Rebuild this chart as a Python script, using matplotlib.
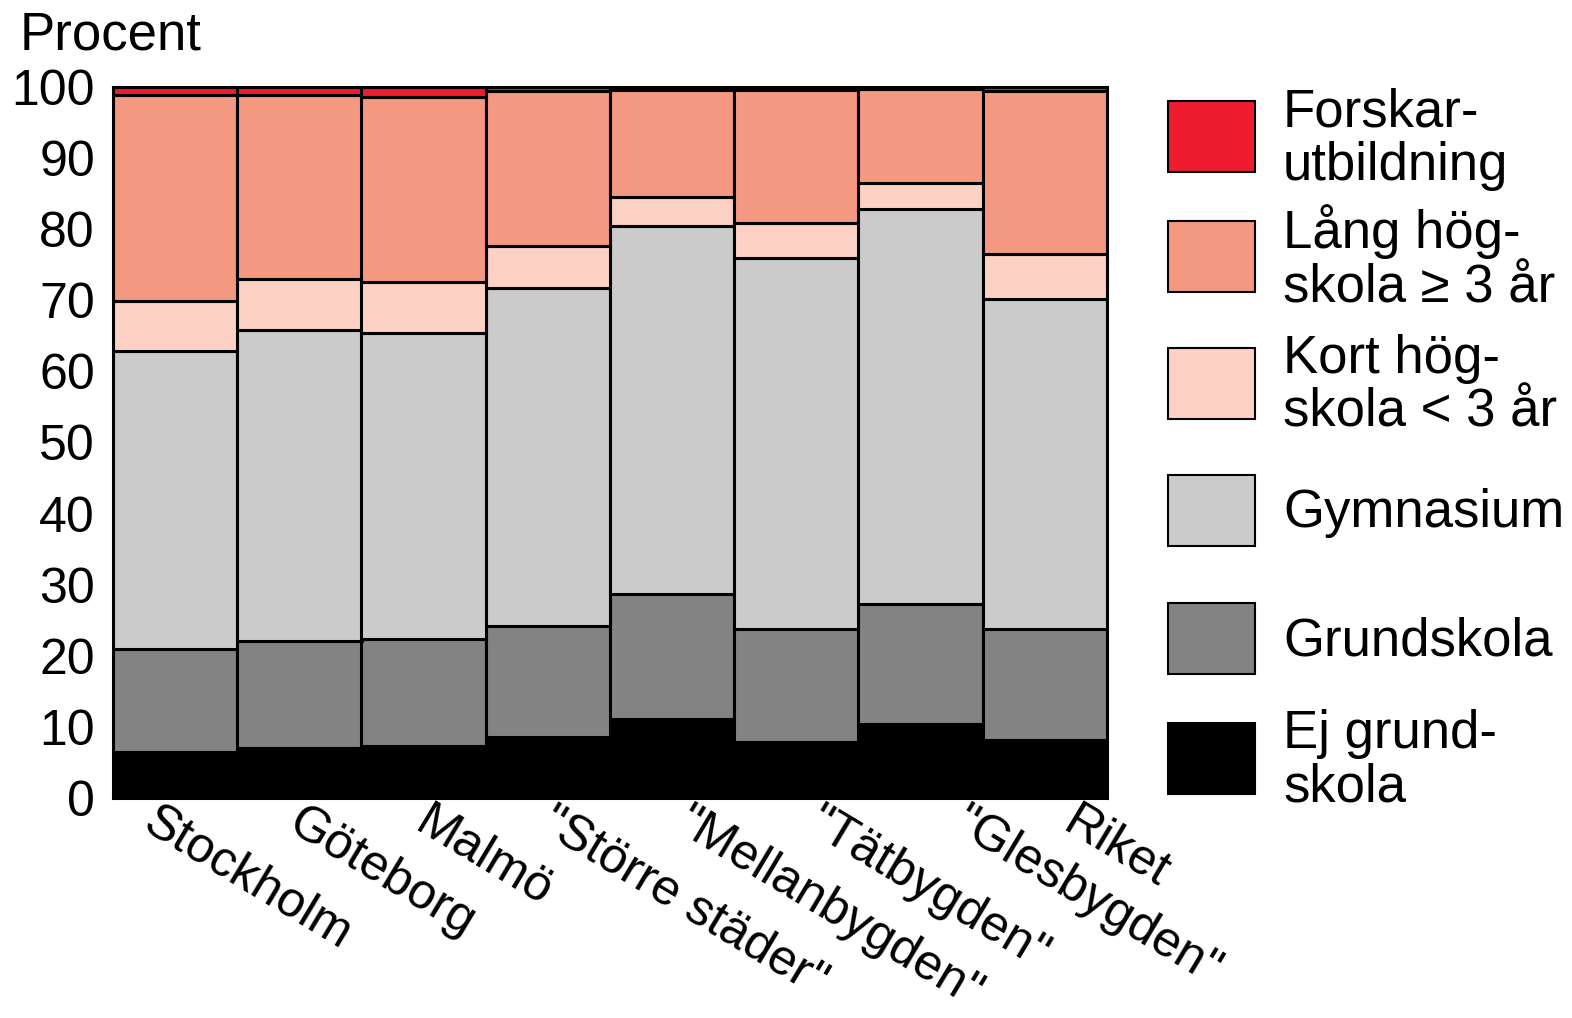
import matplotlib
matplotlib.use('Agg')
from matplotlib import pyplot as plt
from matplotlib.patches import Rectangle

plt.rcParams['font.family'] = ['Liberation Sans', 'DejaVu Sans']

regions = ['Stockholm', 'Göteborg', 'Malmö', '"Större städer"', '"Mellanbygden"',
           '"Tätbygden"', '"Glesbygden"', 'Riket']

# procent per utbildningsnivå, nerifrån och upp
ej_grundskola = [6.4, 7.1, 7.3, 8.6, 11.1, 7.9, 10.4, 8.2]
grundskola = [14.6, 15.0, 15.0, 15.6, 17.6, 15.9, 16.9, 15.6]
gymnasium = [41.8, 43.7, 43.1, 47.5, 51.7, 52.2, 55.5, 46.4]
kort_hogskola = [7.1, 7.2, 7.2, 5.9, 4.1, 4.9, 3.7, 6.3]
lang_hogskola = [29.0, 25.9, 26.0, 21.8, 15.1, 18.7, 13.2, 22.9]
forskar = [1.1, 1.1, 1.4, 0.6, 0.2, 0.3, 0.2, 0.6]

legend_labels = ['Ej grund-\nskola', 'Grundskola', 'Gymnasium', 'Kort hög-\nskola < 3 år',
                 'Lång hög-\nskola ≥ 3 år', 'Forskar-\nutbildning']
colors = ['#000000', '#838383', '#cbcbcb', '#fdd1c4', '#f59882', '#ed1c2e']

W, H = 1572, 1018
fig = plt.figure(figsize=(W / 100, H / 100), dpi=100)
ax = fig.add_axes([113 / W, 1 - 798 / H, (1107 - 113) / W, (798 - 87) / H])

series = [ej_grundskola, grundskola, gymnasium, kort_hogskola, lang_hogskola, forskar]
x = list(range(len(regions)))
bottom = [0.0] * len(regions)
for vals, col in zip(series, colors):
    ax.bar(x, vals, width=1.0, bottom=bottom, color=col, edgecolor='black', linewidth=2.2)
    bottom = [b + v for b, v in zip(bottom, vals)]

ax.set_xlim(-0.5, len(regions) - 0.5)
ax.set_ylim(0, 100)
ax.set_yticks(range(0, 101, 10))
ax.tick_params(axis='y', length=0, pad=13, labelsize=36)
ax.set_xticks([])
for s in ax.spines.values():
    s.set_linewidth(2.2)

# kategorinamn, snett nedåt
label_dx = [-0.13, 0.04, 0.06, 0.07, 0.16, 0.22, 0.39, 0.28]
for i, name in enumerate(regions):
    ax.text(i + label_dx[i], -0.002, name, transform=ax.get_xaxis_transform(),
            rotation=-31, rotation_mode='anchor', ha='left', va='top', fontsize=36)

fig.text(20 / W, 1 - 50 / H, 'Procent', fontsize=38, va='baseline', ha='left')

# förklaring till höger
tops = [723, 603, 475, 348, 221, 101]
for lab, col, top in zip(legend_labels, colors, tops):
    fig.add_artist(Rectangle((1168 / W, 1 - (top + 71) / H), 87 / W, 71 / H,
                             transform=fig.transFigure, facecolor=col,
                             edgecolor='black', linewidth=1.5))
    fig.text(1283 / W, 1 - (top + 38) / H, lab, fontsize=38, va='center', ha='left',
             linespacing=1.1)

fig.savefig('out.png', dpi=100)
